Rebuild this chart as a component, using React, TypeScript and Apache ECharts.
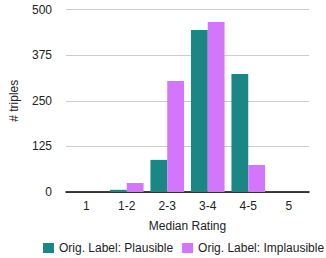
import React, { useEffect, useRef } from "react";
import * as echarts from "echarts";

const categories = ["1", "1-2", "2-3", "3-4", "4-5", "5"];
const plausible = [0, 6, 88, 444, 323, 0];
const implausible = [0, 25, 304, 466, 74, 0];
const yTicks = { min: 0, max: 500, interval: 125 };

export default function App() {
  const ref = useRef<HTMLDivElement>(null);
  useEffect(() => {
    const chart = echarts.init(ref.current!, undefined, { renderer: "svg" });
    const font = "'Liberation Sans', Arial, Helvetica, sans-serif";
    chart.setOption({
      animation: false,
      textStyle: { fontFamily: font },
      grid: { left: 56, right: 17, top: 9.5, bottom: 66 },
      legend: {
        left: 38,
        top: 242,
        width: 288,
        padding: [0, 0, 0, 5],
        itemWidth: 11,
        itemHeight: 10,
        itemGap: 9,
        icon: "rect",
        textStyle: { fontSize: 12, color: "#222", fontFamily: font },
        data: ["Orig. Label: Plausible", "Orig. Label: Implausible"],
      },
      xAxis: {
        type: "category",
        data: categories,
        name: "Median Rating",
        nameLocation: "middle",
        nameGap: 28,
        nameTextStyle: { fontSize: 12, color: "#222", fontFamily: font },
        axisLine: { lineStyle: { color: "#000", width: 1.5 } },
        axisTick: { show: false },
        axisLabel: { fontSize: 12, color: "#222", margin: 8, fontFamily: font },
      },
      yAxis: {
        type: "value",
        min: yTicks.min,
        max: yTicks.max,
        interval: yTicks.interval,
        name: "# triples",
        nameLocation: "middle",
        nameGap: 46,
        nameTextStyle: { fontSize: 12, color: "#222", fontFamily: font },
        axisLine: { show: false },
        axisTick: { show: false },
        axisLabel: { fontSize: 12, color: "#222", margin: 14, fontFamily: font },
        splitLine: { lineStyle: { color: "#cccccc", width: 1 } },
      },
      series: [
        {
          name: "Orig. Label: Plausible",
          type: "bar",
          data: plausible,
          itemStyle: { color: "#1b8784" },
          barGap: "0%",
          barCategoryGap: "17%",
        },
        {
          name: "Orig. Label: Implausible",
          type: "bar",
          data: implausible,
          itemStyle: { color: "#d376fc" },
          barGap: "0%",
          barCategoryGap: "17%",
        },
      ],
    });
    return () => chart.dispose();
  }, []);
  return (
    <div
      ref={ref}
      style={{ position: "fixed", left: 0, top: 0, width: 326, height: 258, background: "#fff" }}
    />
  );
}
